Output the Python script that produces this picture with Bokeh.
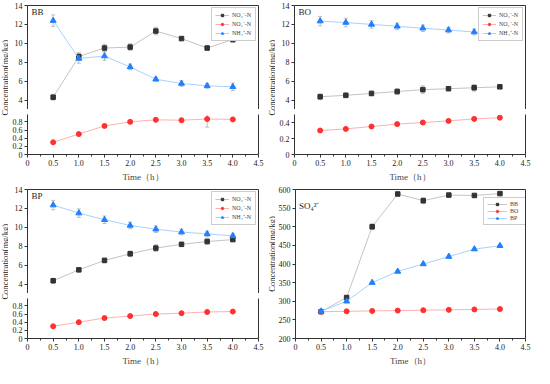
import numpy as np
from math import pi
from bokeh.plotting import figure
from bokeh.layouts import row, column
from bokeh.models import (Range1d, FixedTicker, Label, Legend, LegendItem, Whisker,
                          ColumnDataSource, TeeHead, LinearAxis)
from bokeh.embed import file_html
from bokeh.resources import INLINE

# ---------------- data ----------------
time_h = [0.5, 1.0, 1.5, 2.0, 2.5, 3.0, 3.5, 4.0]
x_ticks = [0, 0.5, 1.0, 1.5, 2.0, 2.5, 3.0, 3.5, 4.0, 4.5]
x_tick_labels = ["0", "0.5", "1.0", "1.5", "2.0", "2.5", "3.0", "3.5", "4.0", "4.5"]

series_names = ["NO\u2083\u207b-N", "NO\u2082\u207b-N", "NH\u2084\u207a-N"]

bb_no3 = [4.3, 8.6, 9.5, 9.6, 11.3, 10.5, 9.5, 10.4]
bb_no3_err = [0.3, 0.4, 0.4, 0.35, 0.4, 0.2, 0.2, 0.3]
bb_no2 = [0.30, 0.50, 0.70, 0.80, 0.85, 0.84, 0.87, 0.86]
bb_no2_err = [0.02, 0.02, 0.02, 0.02, 0.02, 0.02, 0.20, 0.02]
bb_nh4 = [12.4, 8.4, 8.65, 7.5, 6.2, 5.75, 5.5, 5.4]
bb_nh4_err = [0.6, 0.5, 0.45, 0.3, 0.2, 0.3, 0.25, 0.4]

bo_no3 = [4.35, 4.5, 4.7, 4.9, 5.1, 5.2, 5.3, 5.4]
bo_no3_err = [0.3, 0.25, 0.25, 0.3, 0.4, 0.2, 0.35, 0.2]
bo_no2 = [0.30, 0.32, 0.35, 0.38, 0.40, 0.42, 0.445, 0.46]
bo_no2_err = [0.01, 0.01, 0.01, 0.01, 0.01, 0.01, 0.01, 0.01]
bo_nh4 = [12.35, 12.2, 12.0, 11.8, 11.6, 11.4, 11.2, 11.0]
bo_nh4_err = [0.5, 0.45, 0.4, 0.35, 0.35, 0.3, 0.3, 0.25]

bp_no3 = [4.35, 5.5, 6.5, 7.2, 7.8, 8.2, 8.5, 8.7]
bp_no3_err = [0.25, 0.2, 0.25, 0.3, 0.35, 0.2, 0.3, 0.2]
bp_no2 = [0.30, 0.40, 0.50, 0.55, 0.60, 0.62, 0.65, 0.66]
bp_no2_err = [0.01, 0.01, 0.01, 0.01, 0.01, 0.01, 0.01, 0.01]
bp_nh4 = [12.35, 11.5, 10.8, 10.2, 9.8, 9.5, 9.3, 9.1]
bp_nh4_err = [0.5, 0.45, 0.4, 0.35, 0.35, 0.3, 0.3, 0.2]

so4_names = ["BB", "BO", "BP"]
so4_bb = [272, 310, 500, 588, 570, 585, 584, 589]
so4_bb_err = [5, 5, 8, 4, 8, 5, 4, 4]
so4_bo = [272, 273, 274, 275, 276, 277, 278, 279]
so4_bo_err = [3, 2, 2, 2, 2, 2, 2, 2]
so4_bp = [273, 300, 350, 380, 400, 420, 440, 449]
so4_bp_err = [4, 3, 3, 3, 3, 4, 3, 3]

upper_ticks = [4, 6, 8, 10, 12, 14]
lower_ticks_a = [0, 0.2, 0.4, 0.6, 0.8]
lower_ticks_b = [0, 0.2, 0.4]
so4_ticks = [200, 250, 300, 350, 400, 450, 500, 550, 600]

# ---------------- style ----------------
FONT = "Liberation Serif"
AX = "#333333"
STYLES = [  # marker, marker color, line color, size
    ("square", "#333333", "#c4c4c4", 4.5),
    ("circle", "#ff3030", "#ffb0b0", 5),
    ("triangle", "#1f7fff", "#a8d2ff", 6),
]
ERRC = "#b0b0b0"

LBL_W = 8
FIG_W = 259
CELL_H = 184
UP_H = 109      # top 5 + frame 104 + bottom 0
GAP_H = 5       # break strip
LO_H = 70       # top 0 + frame 40 + bottom 30
B_LEFT = 19
B_RIGHT = 9
FRAME_W = FIG_W - B_LEFT - B_RIGHT
SO4_FRAME_H = CELL_H - 5 - 30
X_MAX = 4.5


def style_axis(ax, ticks, labels=None, minor=None):
    ax.ticker = FixedTicker(ticks=ticks, minor_ticks=minor or [])
    if labels is not None:
        ax.major_label_overrides = {t: l for t, l in zip(ticks, labels)}
    ax.axis_line_color = AX
    ax.major_tick_line_color = AX
    ax.minor_tick_line_color = AX
    ax.major_tick_in = 0
    ax.major_tick_out = 3
    ax.minor_tick_in = 0
    ax.minor_tick_out = 2
    ax.major_label_standoff = 2
    ax.major_label_text_font = FONT
    ax.major_label_text_font_size = "8px"
    ax.major_label_text_color = "#222222"


def frame_axis(p, side):
    ax = LinearAxis(ticker=FixedTicker(ticks=[]), axis_line_color=AX,
                    major_tick_line_color=None, minor_tick_line_color=None,
                    major_label_standoff=0, major_label_text_font_size="0px")
    p.add_layout(ax, side)


def base_fig(h, yr, top, bottom):
    p = figure(width=FIG_W, height=h, x_range=Range1d(0, X_MAX), y_range=yr,
               toolbar_location=None, output_backend="svg",
               x_axis_location=None, y_axis_location=None,
               min_border_left=B_LEFT, min_border_right=B_RIGHT,
               min_border_top=top, min_border_bottom=bottom)
    p.grid.visible = False
    p.outline_line_color = None
    p.background_fill_color = "white"
    p.border_fill_color = "white"
    return p


def draw(p, x, y, err, k, whisk=True):
    marker, mc, lc, sz = STYLES[k]
    src = ColumnDataSource(dict(x=x, y=y,
                                up=[a + e for a, e in zip(y, err)],
                                lo=[a - e for a, e in zip(y, err)]))
    if whisk:
        w = Whisker(base="x", upper="up", lower="lo", source=src, dimension="height",
                    line_color=ERRC, line_width=0.8,
                    upper_head=TeeHead(size=4, line_color=ERRC, line_width=0.8),
                    lower_head=TeeHead(size=4, line_color=ERRC, line_width=0.8))
        p.add_layout(w)
    ln = p.line("x", "y", source=src, line_color=lc, line_width=1)
    sc = p.scatter("x", "y", source=src, marker=marker, size=sz,
                   fill_color=mc, line_color=mc)
    return ln, sc


def add_legend(p, items, glyph_w=14, label_w=20, margin=2, location="top_right"):
    leg = Legend(items=[LegendItem(label=n, renderers=list(r)) for n, r in items],
                 location=location, label_text_font=FONT,
                 label_text_font_size="6px", glyph_width=glyph_w, glyph_height=6,
                 label_height=6, label_width=label_w, label_standoff=3, spacing=1,
                 padding=3, margin=margin,
                 border_line_color="#9a9a9a", border_line_width=1,
                 background_fill_alpha=1)
    p.add_layout(leg)


def label_fig(yc):
    q = figure(width=LBL_W, height=CELL_H, x_range=Range1d(0, 1), y_range=Range1d(0, 1),
               toolbar_location=None, output_backend="svg",
               x_axis_type=None, y_axis_type=None, min_border=0)
    q.grid.visible = False
    q.outline_line_color = None
    q.add_layout(Label(x=0.5, y=yc, text="Concentration(mg/kg)", angle=pi / 2,
                       text_align="center", text_baseline="middle",
                       text_font=FONT, text_font_size="8.5px", text_color="#222222"))
    return q


def break_strip():
    # thin strip between the two y segments holding the "//" axis-break symbol
    per_px = X_MAX / FRAME_W
    s = figure(width=FIG_W, height=GAP_H,
               x_range=Range1d(-B_LEFT * per_px, X_MAX), y_range=Range1d(0, 1),
               toolbar_location=None, output_backend="svg",
               x_axis_type=None, y_axis_type=None,
               min_border_left=0, min_border_right=B_RIGHT,
               min_border_top=0, min_border_bottom=0)
    s.grid.visible = False
    s.outline_line_color = None
    d = 3 * per_px
    s.segment(x0=[-d, -d], y0=[0.0, 0.45], x1=[d, d], y1=[0.55, 1.0],
              line_color=AX, line_width=1)
    return s


minor_x = list(np.arange(0.25, 4.5, 0.5))


def time_axis(p):
    xb = LinearAxis(axis_label="Time\uff08h\uff09")
    style_axis(xb, x_ticks, x_tick_labels, minor_x)
    xb.axis_label_text_font = FONT
    xb.axis_label_text_font_size = "9px"
    xb.axis_label_text_font_style = "normal"
    xb.axis_label_standoff = 3
    p.add_layout(xb, "below")


def nitrogen_panel(tag, no3, no3e, no2, no2e, nh4, nh4e, lo_end, lo_ticks):
    up = base_fig(UP_H, Range1d(3, 14), 5, 0)
    lo = base_fig(LO_H, Range1d(0, lo_end), 0, 30)
    lo.x_range = up.x_range

    ya = LinearAxis()
    style_axis(ya, upper_ticks)
    up.add_layout(ya, "left")
    frame_axis(up, "above")
    frame_axis(up, "right")

    yb = LinearAxis()
    style_axis(yb, lo_ticks, ["0"] + [f"{t:.1f}" for t in lo_ticks[1:]])
    lo.add_layout(yb, "left")
    time_axis(lo)
    frame_axis(lo, "right")

    r1 = draw(up, time_h, no3, no3e, 0)
    draw(lo, time_h, no2, no2e, 1)
    r2 = draw(up, time_h, no2, no2e, 1, whisk=False)  # below upper range: legend entry
    r3 = draw(up, time_h, nh4, nh4e, 2)
    add_legend(up, [(series_names[0], r1), (series_names[1], r2), (series_names[2], r3)])

    up.add_layout(Label(x=0.08, y=13.3, text=tag, text_font=FONT, text_font_size="9px",
                        text_baseline="middle", text_color="#222222"))
    return row(label_fig(0.58), column(up, break_strip(), lo))


def so4_panel():
    p = base_fig(CELL_H, Range1d(200, 600), 5, 30)
    ya = LinearAxis()
    style_axis(ya, so4_ticks)
    p.add_layout(ya, "left")
    time_axis(p)
    frame_axis(p, "above")
    frame_axis(p, "right")
    r1 = draw(p, time_h, so4_bb, so4_bb_err, 0)
    r2 = draw(p, time_h, so4_bo, so4_bo_err, 1)
    r3 = draw(p, time_h, so4_bp, so4_bp_err, 2)
    leg_w, leg_h = 3 + 20 + 3 + 12 + 3, 3 + 6 * 3 + 2 + 3
    add_legend(p, [(so4_names[0], r1), (so4_names[1], r2), (so4_names[2], r3)],
               glyph_w=20, label_w=12, margin=0,
               location=(FRAME_W - leg_w - 2, SO4_FRAME_H - 10 - leg_h))
    p.add_layout(Label(x=0.07, y=556, text="SO\u2084\u00b2\u207b", text_font=FONT,
                       text_font_size="9px", text_baseline="middle", text_color="#222222"))
    return row(label_fig(0.567), p)


bb = nitrogen_panel("BB", bb_no3, bb_no3_err, bb_no2, bb_no2_err, bb_nh4, bb_nh4_err,
                    0.98, lower_ticks_a)
bo = nitrogen_panel("BO", bo_no3, bo_no3_err, bo_no2, bo_no2_err, bo_nh4, bo_nh4_err,
                    0.5, lower_ticks_b)
bp = nitrogen_panel("BP", bp_no3, bp_no3_err, bp_no2, bp_no2_err, bp_nh4, bp_nh4_err,
                    0.98, lower_ticks_a)
so = so4_panel()

layout = column(row(bb, bo), row(bp, so))

with open("out.html", "w") as f:
    f.write(file_html(layout, INLINE))
